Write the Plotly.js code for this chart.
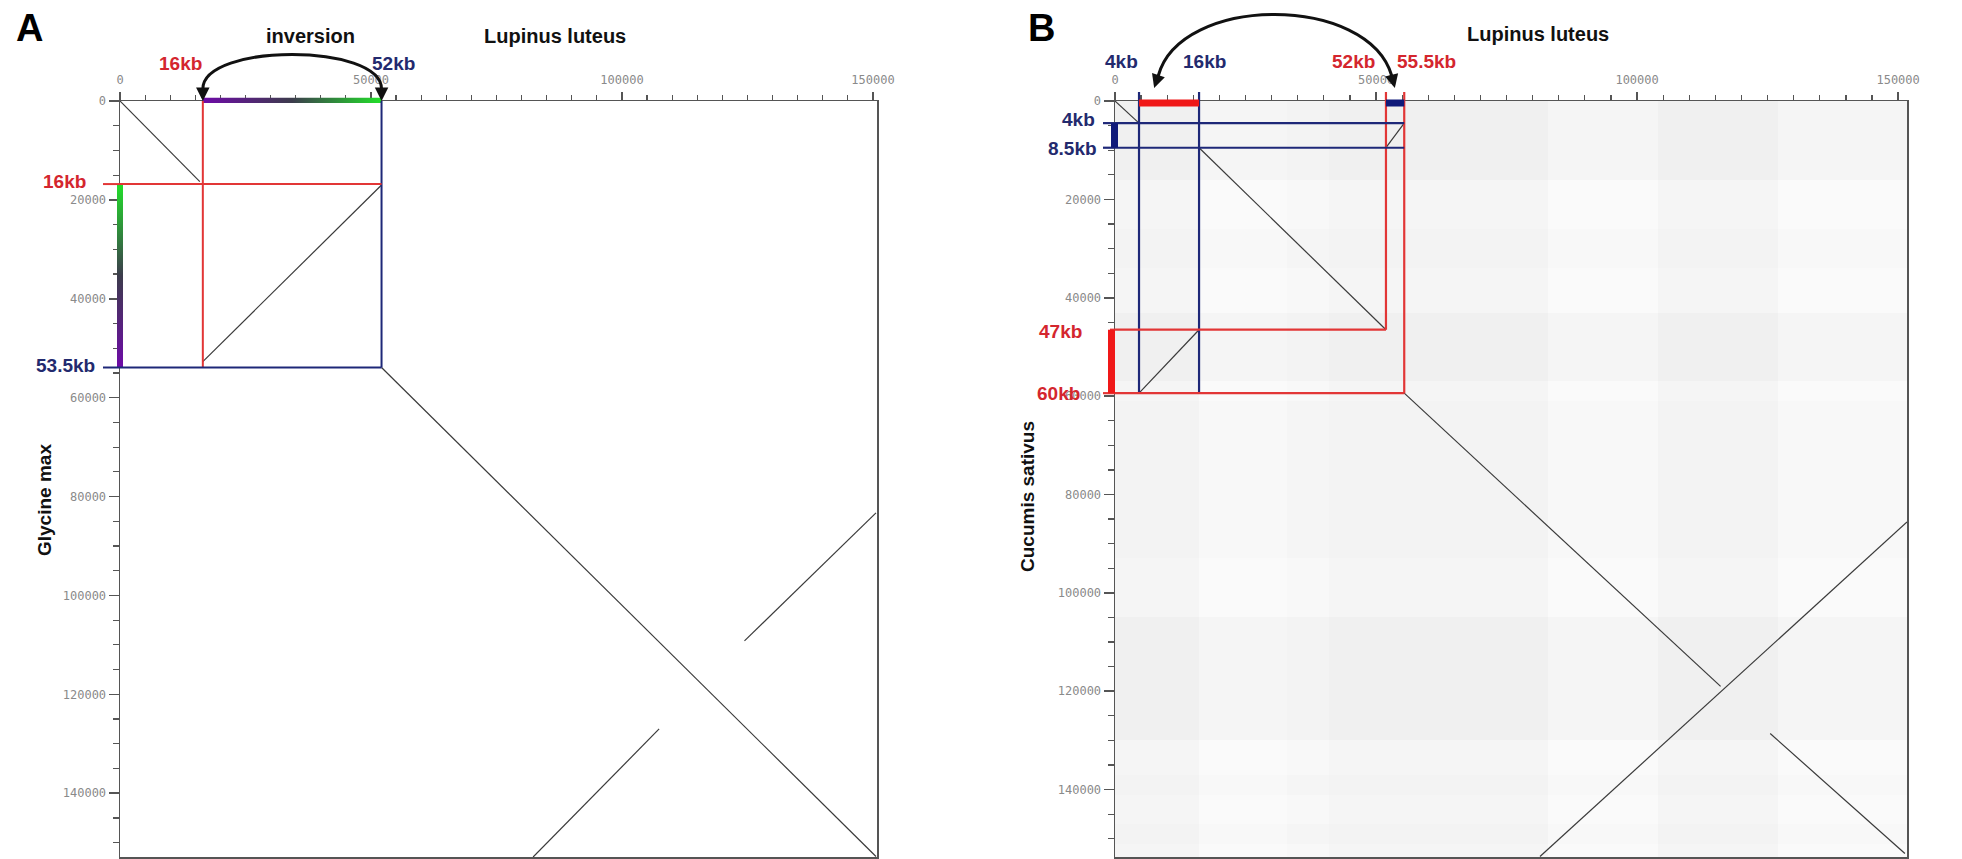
<!DOCTYPE html>
<html><head><meta charset="utf-8">
<script src="https://cdn.plot.ly/plotly-3.0.1.min.js"></script>
<style>html,body{margin:0;padding:0;background:#fff;overflow:hidden}#chart{width:1962px;height:859px}</style>
</head><body><div id="chart"></div>
<script>
// ================= DATA (bp) =================
// Axis extents
const lupinusRangeA = [0, 150800];
const glycineRangeA = [152900, 0];
const lupinusRangeB = [0, 151700];
const cucumisRangeB = [153700, 0];

// Panel A dot-plot segments: Lupinus luteus (x) vs Glycine max (y)
const aSegX0 = [0,     16500, 52100,  82300,  124400];
const aSegY0 = [0,     52700, 53900,  152900, 109200];
const aSegX1 = [15900, 52100, 150600, 107400, 150600];
const aSegY1 = [16300, 17000, 152800, 127000, 83300];

// Panel A breakpoints
const aLupBreaks = [16500, 52100];
const aLupLabels = ["16kb", "52kb"];
const aGlyBreaks = [16800, 53900];
const aGlyLabels = ["16kb", "53.5kb"];

// Panel B dot-plot segments: Lupinus luteus (x) vs Cucumis sativus (y)
const bSegX0 = [0,    4600,  16100, 51900, 55400,  125500, 81400];
const bSegY0 = [0,    59400, 9500,  9500,  59400,  128600, 153600];
const bSegX1 = [4600, 16100, 51900, 55400, 116000, 151300, 151700];
const bSegY1 = [4500, 46500, 46500, 4500,  119000, 153000, 85600];

// Panel B breakpoints
const bLupBreaks = [4600, 16100, 51900, 55400];
const bLupLabels = ["4kb", "16kb", "52kb", "55.5kb"];
const bCucBreaks = [4500, 9500, 46500, 59400];
const bCucLabels = ["4kb", "8.5kb", "47kb", "60kb"];

// Panel B background repeat-hit density (0 = none ... 3 = dense), read as bands from the picture
const bDensX = [0, 16000, 33000, 41000, 56000, 83000, 104000, 127000, 151700];
const bDensY = [0, 16000, 26000, 34000, 43000, 57000, 61000, 77000, 93000, 105000, 122000, 130000, 137000, 141000, 147000, 151000, 153700];
const bDensZ = [
  [3,   2,   2.5, 3,   3,   2,   3,   2  ],
  [2,   1,   1.5, 2,   2,   1,   2,   1  ],
  [2.5, 1.5, 2,   2.5, 2.5, 1.5, 2.5, 1.5],
  [2,   1,   1.5, 2,   2,   1,   2,   1  ],
  [3,   2,   2.5, 3,   3,   2,   3,   2  ],
  [2,   1,   1.5, 2,   2,   1,   2,   1  ],
  [2.5, 1.5, 2,   2.5, 2.5, 1.5, 2.5, 1.5],
  [2.5, 1.5, 2,   2.5, 2.5, 1.5, 2.5, 1.5],
  [2,   1,   1.5, 2,   2,   1,   2,   1  ],
  [3,   2,   2.5, 3,   3,   2,   3,   2  ],
  [3,   2,   2.5, 3,   3,   2,   3,   2  ],
  [2,   1,   1.5, 2,   2,   1,   2,   1  ],
  [2.5, 1.5, 2,   2.5, 2.5, 1.5, 2.5, 1.5],
  [2,   1,   1.5, 2,   2,   1,   2,   1  ],
  [2.5, 1.5, 2,   2.5, 2.5, 1.5, 2.5, 1.5],
  [2,   1,   1.5, 2,   2,   1,   2,   1  ]
];

const xTickStep = 50000, yTickStep = 20000, minorStep = 5000;

// ================= STYLE / LAYOUT =================
const W = 1962, H = 859;
const px = v => v / W;
const py = v => 1 - v / H;
const RED = '#e23636', REDTXT = '#d4262e', NAVY = '#1e2878', NAVYTXT = '#232a6e', BRIGHTRED = '#f01818';
const domAx = [px(120), px(877)], domBx = [px(1115), px(1907)], domY = [py(857), py(101)];

function segs(x0, y0, x1, y1) {
  const xs = [], ys = [];
  for (let i = 0; i < x0.length; i++) { xs.push(x0[i], x1[i], null); ys.push(y0[i], y1[i], null); }
  return {xs, ys};
}
const sa = segs(aSegX0, aSegY0, aSegX1, aSegY1);
const sb = segs(bSegX0, bSegY0, bSegX1, bSegY1);

const traces = [
  {type:'heatmap', x: bDensX, y: bDensY, z: bDensZ, xaxis:'x2', yaxis:'y2', zmin:0, zmax:3.6,
   colorscale:[[0,'#ffffff'],[1,'#ededed']], showscale:false, hoverinfo:'skip', zsmooth:false},
  {type:'scatter', mode:'lines', x: sa.xs, y: sa.ys, xaxis:'x', yaxis:'y', line:{color:'#3a3a3a', width:1.2}, hoverinfo:'skip', showlegend:false},
  {type:'scatter', mode:'lines', x: sb.xs, y: sb.ys, xaxis:'x2', yaxis:'y2', line:{color:'#3a3a3a', width:1.2}, hoverinfo:'skip', showlegend:false}
];

const tickFont = {family:'DejaVu Sans Mono', size:12, color:'#8a8a8a'};
function xAx(range, dom, anchor) {
  return {domain: dom, range: range, anchor: anchor, side:'top', showgrid:false, zeroline:false,
    showline:true, mirror:true, linecolor:'#555', linewidth:1.5,
    ticks:'outside', ticklen:8, tickwidth:1.5, tickcolor:'#555', tick0:0, dtick:xTickStep, tickformat:'d',
    tickfont: tickFont, ticklabelstandoff: 3,
    minor:{ticks:'outside', ticklen:5, tickwidth:1.2, tickcolor:'#555', dtick:minorStep, tick0:0, showgrid:false},
    fixedrange:true};
}
function yAx(range, dom, anchor) {
  return {domain: dom, range: range, anchor: anchor, showgrid:false, zeroline:false,
    showline:true, mirror:true, linecolor:'#555', linewidth:1.5,
    ticks:'outside', ticklen:10, tickwidth:1.5, tickcolor:'#555', tick0:0, dtick:yTickStep, tickformat:'d',
    tickfont: tickFont,
    minor:{ticks:'outside', ticklen:6, tickwidth:1.2, tickcolor:'#555', dtick:minorStep, tick0:0, showgrid:false},
    fixedrange:true};
}

const shapes = [];
function line(xref, yref, x0, y0, x1, y1, color, width) {
  shapes.push({type:'line', xref, yref, x0, y0, x1, y1, line:{color, width}, layer:'above'});
}
function rect(xref, yref, x0, y0, x1, y1, color) {
  shapes.push({type:'rect', xref, yref, x0, y0, x1, y1, fillcolor:color, line:{width:0}, layer:'above'});
}

// ---- Panel A guide lines ----
line('x','y', aLupBreaks[0], 0, aLupBreaks[0], aGlyBreaks[1], RED, 2);
line('x','y', aLupBreaks[1], 0, aLupBreaks[1], aGlyBreaks[1], NAVY, 2);
line('x','y', 0, aGlyBreaks[0], aLupBreaks[1], aGlyBreaks[0], RED, 2);
line('paper','y', px(103), aGlyBreaks[0], domAx[0], aGlyBreaks[0], RED, 2);
line('x','y', 0, aGlyBreaks[1], aLupBreaks[1], aGlyBreaks[1], NAVY, 2);
line('paper','y', px(103), aGlyBreaks[1], domAx[0], aGlyBreaks[1], NAVY, 2);

// ---- Panel B guide lines ----
const topStub = py(92);
[0,1].forEach(i => {
  line('x2','y2', bLupBreaks[i], 0, bLupBreaks[i], bCucBreaks[3], NAVY, 2.2);
  line('x2','paper', bLupBreaks[i], topStub, bLupBreaks[i], domY[1], NAVY, 2.2);
});
line('x2','y2', bLupBreaks[2], 0, bLupBreaks[2], bCucBreaks[2], RED, 2.2);
line('x2','paper', bLupBreaks[2], topStub, bLupBreaks[2], domY[1], RED, 2.2);
line('x2','y2', bLupBreaks[3], 0, bLupBreaks[3], bCucBreaks[3], RED, 2.2);
line('x2','paper', bLupBreaks[3], topStub, bLupBreaks[3], domY[1], RED, 2.2);
[0,1].forEach(i => {
  line('x2','y2', 0, bCucBreaks[i], bLupBreaks[3], bCucBreaks[i], NAVY, 2.2);
  line('paper','y2', px(1103), bCucBreaks[i], domBx[0], bCucBreaks[i], NAVY, 2.2);
});
line('x2','y2', 0, bCucBreaks[2], bLupBreaks[2], bCucBreaks[2], RED, 2.2);
line('paper','y2', px(1110), bCucBreaks[2], domBx[0], bCucBreaks[2], RED, 2.2);
line('x2','y2', 0, bCucBreaks[3], bLupBreaks[3], bCucBreaks[3], RED, 2.2);
line('paper','y2', px(1103), bCucBreaks[3], domBx[0], bCucBreaks[3], RED, 2.2);
// thick bars
rect('x2','paper', bLupBreaks[0], py(99.5), bLupBreaks[1], py(106.5), BRIGHTRED);
rect('x2','paper', bLupBreaks[2], py(99.5), bLupBreaks[3], py(106.5), '#101a7a');
rect('paper','y2', px(1111), bCucBreaks[0], px(1118), bCucBreaks[1], '#101a7a');
rect('paper','y2', px(1108), bCucBreaks[2], px(1115), bCucBreaks[3], BRIGHTRED);

// ---- curved arrows ----
shapes.push({type:'path', xref:'x', yref:'paper', layer:'above',
  path:`M ${aLupBreaks[0]},${py(89)} C ${aLupBreaks[0]},${py(43)} ${aLupBreaks[1]},${py(43)} ${aLupBreaks[1]},${py(89)}`,
  line:{color:'#111', width:3}});
shapes.push({type:'path', xref:'x2', yref:'paper', layer:'above',
  path:`M 8270,${py(76)} C 12500,${py(-6)} 48500,${py(-6)} 53025,${py(76)}`,
  line:{color:'#111', width:3}});

function arrowHead(xref, yref, x, y, ax, ay) {
  return {xref, yref, x, y, ax, ay, axref:'pixel', ayref:'pixel', text:'', showarrow:true,
    arrowhead:2, arrowsize:0.9, arrowwidth:3, arrowcolor:'#111', standoff:0};
}

const ann = [];
ann.push(arrowHead('x','y', aLupBreaks[0], 0, 0, -12));
ann.push(arrowHead('x','y', aLupBreaks[1], 0, 0, -12));
ann.push(arrowHead('x2','paper', 7500, py(88), 4, -12));
ann.push(arrowHead('x2','paper', 53600, py(88), -3, -12));

function txt(t, cx, cy, size, color, angle) {
  ann.push({xref:'paper', yref:'paper', x:px(cx), y:py(cy), xanchor:'center', yanchor:'middle',
    text:'<b>' + t + '</b>', showarrow:false, textangle: angle || 0,
    font:{family:'Liberation Sans', size:size, color:color}});
}
txt('A', 29, 28, 38, '#000');
txt('B', 1041, 28, 38, '#000');
txt('inversion', 310, 36, 20, '#111');
txt('Lupinus luteus', 555, 36, 20, '#111');
txt('Lupinus luteus', 1538, 34, 20, '#111');
txt(aLupLabels[0], 180, 63, 19, REDTXT);
txt(aLupLabels[1], 393, 63, 19, NAVYTXT);
txt(aGlyLabels[0], 64, 181, 19, REDTXT);
txt(aGlyLabels[1], 65, 365, 19, NAVYTXT);
txt('Glycine max', 44, 500, 19, '#111', -90);
txt(bLupLabels[0], 1121, 61, 19, NAVYTXT);
txt(bLupLabels[1], 1204, 61, 19, NAVYTXT);
txt(bLupLabels[2], 1353, 61, 19, REDTXT);
txt(bLupLabels[3], 1426, 61, 19, REDTXT);
txt(bCucLabels[0], 1078, 119, 19, NAVYTXT);
txt(bCucLabels[1], 1072, 148, 19, NAVYTXT);
txt(bCucLabels[2], 1060, 332, 19, REDTXT);
txt(bCucLabels[3], 1058, 393, 19, REDTXT);
txt('Cucumis sativus', 1027, 497, 19, '#111', -90);

// gradient bars (panel A) as svg images
function gradSvg(dir) {
  const g = dir === 'h'
    ? '<linearGradient id="g" x1="0" y1="0" x2="1" y2="0"><stop offset="0" stop-color="#6e0aa8"/><stop offset="0.5" stop-color="#3c3c4c"/><stop offset="1" stop-color="#22e02a"/></linearGradient>'
    : '<linearGradient id="g" x1="0" y1="0" x2="0" y2="1"><stop offset="0" stop-color="#22e02a"/><stop offset="0.5" stop-color="#3c3c4c"/><stop offset="1" stop-color="#6e0aa8"/></linearGradient>';
  const s = '<svg xmlns="http://www.w3.org/2000/svg" width="100" height="100" preserveAspectRatio="none"><defs>' + g + '</defs><rect width="100" height="100" fill="url(#g)"/></svg>';
  return 'data:image/svg+xml;base64,' + btoa(s);
}
const images = [
  {source: gradSvg('h'), xref:'x', yref:'paper', x: aLupBreaks[0], y: py(97.5), sizex: aLupBreaks[1] - aLupBreaks[0], sizey: 5.5 / H,
   xanchor:'left', yanchor:'top', sizing:'stretch', layer:'above'},
  {source: gradSvg('v'), xref:'paper', yref:'y', x: px(120), y: aGlyBreaks[0], sizex: 6 / W, sizey: aGlyBreaks[1] - aGlyBreaks[0],
   xanchor:'center', yanchor:'top', sizing:'stretch', layer:'above'}
];

const layout = {
  width: W, height: H, margin:{l:0, r:0, t:0, b:0}, paper_bgcolor:'#fff', plot_bgcolor:'#fff',
  showlegend:false,
  xaxis: xAx(lupinusRangeA, domAx, 'y'),
  yaxis: yAx(glycineRangeA, domY, 'x'),
  xaxis2: xAx(lupinusRangeB, domBx, 'y2'),
  yaxis2: yAx(cucumisRangeB, domY, 'x2'),
  shapes: shapes, annotations: ann, images: images
};
Plotly.newPlot('chart', traces, layout, {staticPlot:true, displayModeBar:false});
</script></body></html>
